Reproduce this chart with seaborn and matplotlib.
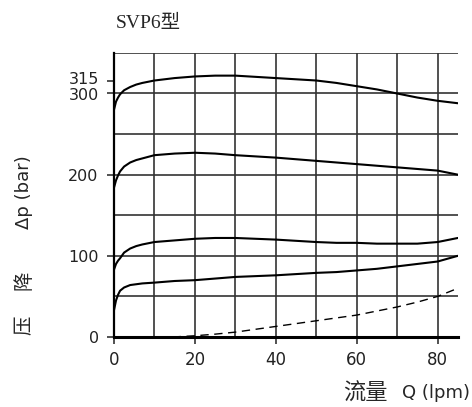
import matplotlib
matplotlib.use("Agg")
import matplotlib.pyplot as plt
import matplotlib.transforms as mtransforms
import seaborn as sns

# flow (lpm) vs pressure drop (bar)
q_main = [0, 0.5, 1, 1.5, 2.5, 4, 5.5, 7, 10, 15, 20, 25, 30, 40, 50, 55, 60, 65, 70, 75, 80, 85]
p_315 = [280, 290, 295, 299, 304, 308, 311, 313, 316, 319, 321, 322, 322, 319, 316, 313, 309, 305, 300, 295, 291, 288]
p_225 = [184, 193, 199, 204, 210, 215, 218, 220, 224, 226, 227, 226, 224, 221, 217, 215, 213, 211, 209, 207, 205, 200]
p_120 = [83, 90, 94, 97, 104, 109, 112, 114, 117, 119, 121, 122, 122, 120, 117, 116, 116, 115, 115, 115, 117, 122]
p_70 = [33, 45, 52, 57, 61, 64, 65, 66, 67, 69, 70, 72, 74, 76, 79, 80, 82, 84, 87, 90, 93, 100]

q_free = [14.5, 20, 25, 30, 40, 50, 60, 70, 75, 80, 85]
p_free = [0, 1.5, 3.5, 6, 13, 20, 27, 37, 43, 50, 60]

x_ticks = [0, 20, 40, 60, 80]
y_ticks = [0, 100, 200, 300, 315]
x_grid = [10, 20, 30, 40, 50, 60, 70, 80]
y_grid = [50, 100, 150, 200, 250, 300, 350]

sns.set_style("white")
plt.rcParams["font.family"] = ["DejaVu Sans", "Noto Sans CJK SC"]

fig = plt.figure(figsize=(4.72, 4.07), dpi=100)
ax = fig.add_axes([0.2415, 0.172, 0.7285, 0.698])

for v in x_grid:
    ax.axvline(v, color="#333333", linewidth=1.2, zorder=1)
for v in y_grid:
    ax.axhline(v, color="#333333", linewidth=1.2, zorder=1)

for p in [p_315, p_225, p_120, p_70]:
    sns.lineplot(x=q_main, y=p, ax=ax, color="black", linewidth=1.5, zorder=3)
sns.lineplot(x=q_free, y=p_free, ax=ax, color="black", linewidth=1.0,
             linestyle=(0, (6, 4)), zorder=3)

ax.set_xlim(0, 85)
ax.set_ylim(0, 350)
ax.set_xticks(x_ticks)
ax.set_yticks(y_ticks)
ax.grid(False)
ax.tick_params(axis="y", length=5, width=1.2, color="#333333",
               labelsize=11.5, pad=6, direction="out", left=True, labelcolor="#222222")
ax.tick_params(axis="x", length=5, width=1.2, color="#333333",
               labelsize=12, pad=5, direction="out", bottom=True, labelcolor="#222222")
ax.set_yticklabels([str(v) for v in y_ticks])
# 300 / 315 sit close together; spread their labels a little
labs = ax.get_yticklabels()
labs[-1].set_transform(labs[-1].get_transform() + mtransforms.ScaledTranslation(0, 3 / 100, fig.dpi_scale_trans))
labs[-2].set_transform(labs[-2].get_transform() + mtransforms.ScaledTranslation(0, -1 / 100, fig.dpi_scale_trans))
for s in ["top", "right"]:
    ax.spines[s].set_visible(False)
ax.spines["left"].set_linewidth(1.6)
ax.spines["left"].set_color("black")
ax.spines["bottom"].set_linewidth(2.2)
ax.spines["bottom"].set_color("black")
ax.set_xlabel("")
ax.set_ylabel("")

fig.text(148 / 472, 1 - 23 / 407, "SVP6型", fontsize=14,
         family=["Liberation Serif", "Noto Sans CJK SC"], ha="center", va="center")
# vertical y label: 压 降 Δp (bar)
fig.text(24 / 472, 1 - 325 / 407, "压", fontsize=14, rotation=90,
         ha="center", va="center")
fig.text(24 / 472, 1 - 280 / 407, "降", fontsize=14, rotation=90,
         ha="center", va="center")
fig.text(24 / 472, 1 - 192 / 407, "Δp (bar)", fontsize=13, rotation=90,
         ha="center", va="center")
# x label
fig.text(388 / 472, 1 - 393 / 407, "流量", fontsize=16, ha="right", va="center")
fig.text(470 / 472, 1 - 393 / 407, "Q (lpm)", fontsize=13, ha="right", va="center")

fig.savefig("out.png", dpi=100)
